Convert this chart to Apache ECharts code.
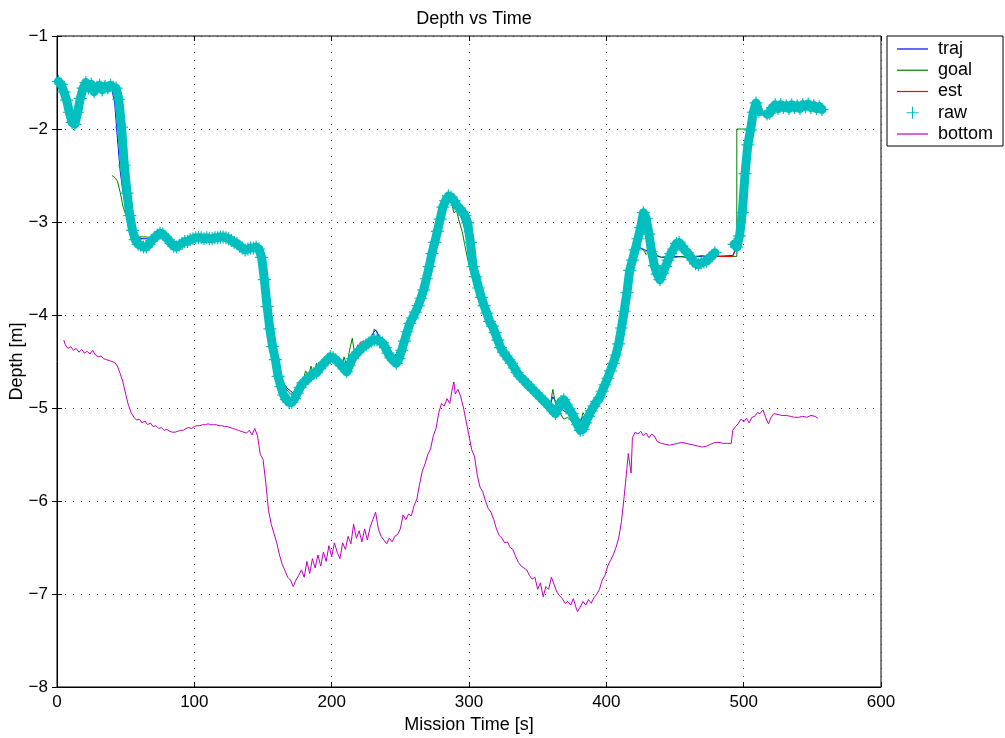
<!DOCTYPE html>
<html lang="en">
<head>
<meta charset="UTF-8">
<title>Depth vs Time</title>
<style>
html, body { margin: 0; padding: 0; background: #fff; }
#main { width: 1005px; height: 738px; }
</style>
</head>
<body>
<div id="main"></div>
<script src="https://cdn.jsdelivr.net/npm/echarts@6/dist/echarts.min.js"></script>
<script>
// ---- data ----
var seriesNames = ['traj', 'goal', 'est', 'raw', 'bottom'];

// raw samples, one every 2 s starting at t = 1 s (null = no sample)
var rawStart = 1;
var rawStep = 2;
var rawDepth = [
    -1.49, -1.52, -1.60, -1.69, -1.82, -1.93, -1.95, -1.82, -1.67, -1.56,
    -1.50, -1.56, -1.52, -1.60, -1.55, -1.53, -1.58, -1.54, -1.56, -1.53,
    -1.55, -1.56, -1.68, -1.98, -2.39, -2.69, -2.93, -3.09, -3.19, -3.24,
    -3.25, -3.27, -3.27, -3.24, -3.20, -3.17, -3.14, -3.12, -3.13, -3.16,
    -3.19, -3.23, -3.26, -3.27, -3.25, -3.23, -3.21, -3.21, -3.19, -3.18,
    -3.17, -3.17, -3.17, -3.18, -3.17, -3.18, -3.18, -3.17, -3.17, -3.16,
    -3.16, -3.17, -3.18, -3.20, -3.22, -3.23, -3.26, -3.28, -3.30, -3.29,
    -3.28, -3.28, -3.27, -3.29, -3.38, -3.62, -3.91, -4.15, -4.34, -4.48,
    -4.66, -4.77, -4.86, -4.91, -4.94, -4.94, -4.90, -4.84, -4.78, -4.73,
    -4.71, -4.68, -4.65, -4.63, -4.62, -4.58, -4.54, -4.51, -4.48, -4.45,
    -4.46, -4.48, -4.51, -4.54, -4.58, -4.61, -4.54, -4.47, -4.43, -4.40,
    -4.37, -4.34, -4.32, -4.30, -4.28, -4.27, -4.27, -4.28, -4.30, -4.35,
    -4.41, -4.46, -4.49, -4.52, -4.47, -4.38, -4.28, -4.18, -4.09, -4.03,
    -3.97, -3.90, -3.82, -3.73, -3.61, -3.48, -3.34, -3.22, -3.10, -2.97,
    -2.84, -2.77, -2.72, -2.73, -2.77, -2.82, -2.85, -2.89, -2.93, -3.01,
    -3.22, -3.48, -3.59, -3.71, -3.81, -3.90, -3.98, -4.07, -4.12, -4.19,
    -4.27, -4.35, -4.40, -4.44, -4.48, -4.52, -4.57, -4.62, -4.66, -4.69,
    -4.72, -4.75, -4.78, -4.81, -4.84, -4.87, -4.90, -4.93, -4.96, -4.99,
    -5.03, -5.06, -5.00, -4.93, -4.91, -4.96, -5.01, -5.06, -5.12, -5.18,
    -5.24, -5.23, -5.16, -5.09, -5.03, -4.98, -4.93, -4.89, -4.82, -4.75,
    -4.68, -4.60, -4.52, -4.43, -4.31, -4.14, -3.96, -3.76, -3.52, -3.41,
    -3.30, -3.18, -3.06, -2.90, -2.96, -3.13, -3.32, -3.47, -3.56, -3.62,
    -3.55, -3.48, -3.41, -3.34, -3.29, -3.23, -3.22, -3.26, -3.30, -3.33,
    -3.37, -3.41, -3.45, -3.46, -3.44, -3.43, -3.42, -3.39, -3.36, -3.33,
    null, null, null, null, null, null, -3.24, -3.27, -3.15, -2.90,
    -2.48, -2.17, -2.01, -1.82, -1.72, -1.81, null, null, -1.84, -1.83,
    -1.77, -1.74, -1.78, -1.74, -1.77, -1.75, -1.78, -1.74, -1.77, -1.75,
    -1.78, -1.74, -1.76, -1.73, -1.77, -1.75, -1.78, -1.76, -1.79
];

var traj = [
    [40, -1.58], [42, -1.72], [44, -2.10], [46, -2.45], [48, -2.68], [50, -2.85],
    [52, -2.98], [54, -3.07], [56, -3.13], [58, -3.16], [62, -3.18], [66, -3.18],
    [70, -3.17], [75, -3.15], [80, -3.17], [85, -3.21], [90, -3.23], [95, -3.20],
    [105, -3.17], [115, -3.17], [125, -3.18], [132, -3.22], [138, -3.27], [144, -3.29],
    [146, -3.33], [148, -3.48], [150, -3.70], [152, -3.92], [154, -4.13], [157, -4.41],
    [160, -4.58], [163, -4.70], [167, -4.78], [172, -4.84], [176, -4.80], [180, -4.72],
    [185, -4.62], [190, -4.56], [195, -4.52], [200, -4.47], [205, -4.50], [210, -4.52],
    [214, -4.45], [218, -4.40], [222, -4.36], [226, -4.32], [229, -4.22], [232, -4.16],
    [235, -4.24], [238, -4.32], [241, -4.40], [244, -4.45], [247, -4.42], [250, -4.34],
    [254, -4.20], [258, -4.06], [262, -3.93], [266, -3.76], [270, -3.52], [274, -3.25],
    [278, -2.98], [282, -2.80], [285, -2.73], [288, -2.76], [292, -2.86], [296, -3.02],
    [300, -3.30], [304, -3.55], [308, -3.78], [312, -3.95], [316, -4.08], [320, -4.22],
    [325, -4.38], [330, -4.49], [336, -4.62], [342, -4.73], [348, -4.82], [354, -4.90],
    [359, -4.97], [361, -4.88], [364, -4.95], [368, -5.02], [372, -5.06], [376, -5.10],
    [380, -5.15], [383, -5.10], [386, -5.06], [390, -4.98], [395, -4.88], [400, -4.72],
    [404, -4.56], [407, -4.40], [410, -4.15], [413, -3.85], [416, -3.55], [419, -3.38],
    [422, -3.27], [425, -3.28], [428, -3.30], [432, -3.32], [436, -3.36], [440, -3.38],
    [450, -3.37], [460, -3.38], [470, -3.37], [480, -3.37], [492, -3.36], [494, -3.30],
    [496, -3.12], [498, -2.75], [500, -2.35], [502, -2.14], [504, -2.05], [506, -2.01],
    [507, -2.00]
];

var goal = [
    [40, -2.50], [42, -2.52], [44, -2.56], [46, -2.68], [48, -2.83], [50, -2.92],
    [52, -3.00], [54, -3.08], [56, -3.12], [60, -3.16], [65, -3.16], [70, -3.17],
    [75, -3.15], [80, -3.17], [85, -3.22], [90, -3.23], [95, -3.20], [100, -3.18],
    [105, -3.17], [110, -3.18], [115, -3.17], [120, -3.17], [125, -3.18], [130, -3.21],
    [135, -3.26], [140, -3.29], [145, -3.30], [147, -3.36], [149, -3.55], [151, -3.62],
    [153, -3.88], [155, -4.10], [157, -4.20], [159, -4.45], [161, -4.55], [163, -4.68],
    [165, -4.72], [167, -4.80], [170, -4.85], [173, -4.86], [176, -4.80], [179, -4.72],
    [181, -4.60], [183, -4.66], [185, -4.55], [187, -4.65], [189, -4.52], [191, -4.62],
    [193, -4.50], [195, -4.58], [197, -4.47], [199, -4.52], [201, -4.42], [203, -4.55],
    [205, -4.48], [207, -4.60], [209, -4.45], [211, -4.55], [213, -4.38], [215, -4.25],
    [217, -4.45], [219, -4.32], [221, -4.38], [223, -4.28], [225, -4.35], [227, -4.25],
    [229, -4.30], [231, -4.15], [233, -4.18], [235, -4.30], [237, -4.28], [239, -4.40],
    [241, -4.45], [243, -4.38], [245, -4.50], [247, -4.42], [249, -4.35], [251, -4.30],
    [253, -4.20], [255, -4.12], [257, -4.05], [259, -3.98], [261, -3.92], [263, -3.85],
    [265, -3.72], [267, -3.62], [269, -3.50], [271, -3.35], [273, -3.25], [275, -3.10],
    [277, -2.98], [279, -2.88], [281, -2.80], [283, -2.75], [285, -2.72], [287, -2.78],
    [289, -2.90], [291, -2.88], [293, -3.00], [295, -3.10], [297, -3.25], [299, -3.40],
    [301, -3.52], [303, -3.62], [305, -3.72], [307, -3.80], [309, -3.88], [311, -3.95],
    [313, -4.03], [315, -4.10], [317, -4.15], [320, -4.22], [323, -4.30], [326, -4.40],
    [330, -4.48], [335, -4.58], [340, -4.65], [345, -4.75], [350, -4.85], [355, -4.92],
    [359, -5.00], [361, -4.80], [363, -4.95], [366, -5.05], [369, -5.12], [372, -5.10],
    [375, -5.15], [378, -5.22], [381, -5.18], [383, -5.05], [385, -5.10], [388, -5.02],
    [391, -4.98], [394, -4.90], [397, -4.82], [400, -4.72], [403, -4.62], [406, -4.48],
    [408, -4.35], [410, -4.10], [412, -3.85], [414, -3.70], [415, -3.50], [417, -3.58],
    [419, -3.40], [421, -3.30], [423, -3.25], [425, -3.28], [427, -3.30], [429, -3.35],
    [431, -3.32], [433, -3.38], [435, -3.30], [437, -3.36], [440, -3.38], [445, -3.37],
    [450, -3.38], [455, -3.37], [460, -3.38], [465, -3.37], [470, -3.36], [475, -3.38],
    [480, -3.37], [495, -3.37], [495, -2.00], [507, -2.00]
];

var est = [
    [1, -1.50], [7, -1.68], [12, -1.95], [17, -1.66], [22, -1.54], [30, -1.55],
    [38, -1.55], [44, -1.58], [46, -1.78], [48, -2.10], [50, -2.45], [52, -2.75],
    [54, -2.98], [56, -3.12], [60, -3.22], [66, -3.25], [72, -3.16], [77, -3.13],
    [83, -3.22], [88, -3.26], [95, -3.21], [105, -3.17], [115, -3.17], [125, -3.18],
    [132, -3.24], [138, -3.29], [146, -3.28], [149, -3.35], [151, -3.58], [153, -3.88],
    [155, -4.12], [157, -4.32], [159, -4.47], [162, -4.68], [166, -4.86], [170, -4.92],
    [175, -4.84], [181, -4.71], [189, -4.61], [195, -4.52], [200, -4.46], [206, -4.52],
    [211, -4.58], [216, -4.45], [221, -4.29], [240, -4.29], [243, -4.44], [247, -4.50],
    [252, -4.33], [257, -4.09], [262, -3.94], [267, -3.72], [272, -3.42], [277, -3.10],
    [281, -2.85], [285, -2.73], [291, -2.82], [296, -2.92], [300, -3.10], [303, -3.45],
    [308, -3.75], [313, -3.98], [318, -4.15], [323, -4.34], [330, -4.50], [337, -4.65],
    [345, -4.78], [352, -4.88], [359, -4.99], [363, -5.05], [368, -4.92], [375, -5.06],
    [382, -5.22], [388, -5.08], [394, -4.91], [400, -4.71], [405, -4.53], [409, -4.33],
    [412, -4.07], [415, -3.78], [417, -3.55], [421, -3.32], [425, -3.08], [428, -2.90],
    [431, -3.10], [434, -3.40], [439, -3.60], [444, -3.45], [449, -3.30], [452, -3.22],
    [459, -3.32], [466, -3.45], [473, -3.43], [479, -3.37], [492, -3.37], [495, -3.27],
    [497, -3.16], [499, -2.92], [501, -2.52], [503, -2.22], [505, -2.06], [507, -1.90],
    [509, -1.85], [521, -1.85]
];

var bottom = [
    [5, -4.27], [6, -4.32], [8, -4.36], [10, -4.34], [12, -4.38], [14, -4.36],
    [16, -4.40], [18, -4.37], [20, -4.41], [22, -4.39], [24, -4.42], [26, -4.38],
    [28, -4.43], [30, -4.45], [32, -4.44], [34, -4.47], [36, -4.48], [38, -4.49],
    [40, -4.50], [42, -4.51], [44, -4.55], [46, -4.63], [48, -4.72], [50, -4.85],
    [52, -4.97], [54, -5.05], [56, -5.10], [58, -5.13], [60, -5.12], [62, -5.16],
    [64, -5.14], [66, -5.18], [68, -5.16], [70, -5.20], [72, -5.19], [74, -5.22],
    [76, -5.21], [78, -5.24], [80, -5.23], [82, -5.25], [84, -5.26], [86, -5.26],
    [88, -5.25], [90, -5.24], [92, -5.24], [94, -5.22], [96, -5.21], [98, -5.22],
    [100, -5.20], [102, -5.19], [104, -5.19], [106, -5.18], [108, -5.18], [110, -5.17],
    [112, -5.18], [114, -5.18], [116, -5.18], [118, -5.19], [120, -5.19], [122, -5.20],
    [124, -5.20], [126, -5.21], [128, -5.22], [130, -5.23], [132, -5.24], [134, -5.25],
    [136, -5.26], [138, -5.27], [140, -5.24], [142, -5.29], [144, -5.22], [146, -5.30],
    [148, -5.50], [150, -5.55], [152, -5.80], [154, -6.10], [156, -6.25], [158, -6.35],
    [160, -6.45], [162, -6.58], [164, -6.68], [166, -6.75], [168, -6.82], [170, -6.85],
    [172, -6.92], [174, -6.85], [176, -6.80], [178, -6.74], [180, -6.82], [182, -6.65],
    [184, -6.78], [186, -6.62], [188, -6.72], [190, -6.58], [192, -6.70], [194, -6.55],
    [196, -6.65], [198, -6.48], [200, -6.60], [202, -6.45], [204, -6.55], [206, -6.62],
    [208, -6.45], [210, -6.52], [212, -6.38], [214, -6.46], [216, -6.25], [218, -6.40],
    [220, -6.32], [222, -6.44], [224, -6.30], [226, -6.42], [228, -6.28], [230, -6.20],
    [232, -6.12], [234, -6.30], [236, -6.38], [238, -6.42], [240, -6.46], [242, -6.40],
    [244, -6.44], [246, -6.38], [248, -6.36], [250, -6.30], [252, -6.15], [254, -6.20],
    [256, -6.14], [258, -6.16], [260, -6.05], [262, -5.98], [264, -5.82], [266, -5.68],
    [268, -5.60], [270, -5.50], [272, -5.44], [274, -5.30], [276, -5.22], [278, -5.05],
    [280, -4.95], [282, -4.98], [284, -4.90], [286, -4.95], [288, -4.78], [289, -4.72],
    [290, -4.85], [292, -4.80], [294, -4.88], [296, -5.00], [298, -5.15], [300, -5.30],
    [302, -5.45], [304, -5.52], [306, -5.72], [308, -5.85], [310, -5.90], [312, -6.00],
    [314, -6.08], [316, -6.12], [318, -6.20], [320, -6.30], [322, -6.37], [324, -6.40],
    [326, -6.45], [328, -6.44], [330, -6.50], [332, -6.52], [334, -6.60], [336, -6.66],
    [338, -6.70], [340, -6.72], [342, -6.74], [344, -6.80], [346, -6.84], [348, -6.82],
    [350, -6.95], [352, -6.88], [354, -7.03], [356, -6.92], [358, -6.95], [360, -6.82],
    [362, -6.90], [364, -6.98], [366, -7.02], [368, -7.05], [370, -7.10], [372, -7.08],
    [374, -7.12], [376, -7.05], [378, -7.15], [379, -7.19], [381, -7.14], [383, -7.08],
    [385, -7.12], [387, -7.06], [389, -7.10], [391, -7.04], [393, -7.00], [395, -6.95],
    [397, -6.85], [399, -6.80], [401, -6.70], [403, -6.64], [405, -6.58], [407, -6.50],
    [409, -6.40], [411, -6.22], [413, -5.95], [415, -5.65], [416, -5.49], [418, -5.70],
    [419, -5.32], [421, -5.26], [423, -5.28], [425, -5.25], [427, -5.30], [429, -5.27],
    [431, -5.32], [433, -5.28], [435, -5.30], [437, -5.36], [440, -5.38], [443, -5.39],
    [446, -5.40], [449, -5.39], [452, -5.38], [455, -5.37], [458, -5.38], [461, -5.39],
    [464, -5.40], [467, -5.41], [470, -5.42], [473, -5.41], [476, -5.39], [479, -5.37],
    [482, -5.37], [485, -5.38], [488, -5.38], [491, -5.38], [492, -5.24], [494, -5.20],
    [496, -5.17], [498, -5.12], [500, -5.15], [502, -5.11], [504, -5.16], [506, -5.10],
    [508, -5.09], [510, -5.05], [512, -5.06], [514, -5.02], [516, -5.10], [518, -5.17],
    [520, -5.10], [522, -5.06], [525, -5.07], [528, -5.08], [531, -5.08], [534, -5.09],
    [537, -5.10], [540, -5.10], [543, -5.09], [546, -5.10], [549, -5.08], [552, -5.09],
    [554, -5.11]
];

// raw as [t, d] pairs; null keeps the gap in the line
var raw = rawDepth.map(function (d, i) {
    return [rawStart + i * rawStep, d === null ? null : d];
});

var font = 'Liberation Sans, Arial, sans-serif';
var plusSymbol = 'path://M5,0h1v5h5v1h-5v5h-1v-5h-5v-1h5z';
var lineIcon = 'path://M0,0h31v1.2h-31z';

function minusLabel(v) {
    return v < 0 ? '\u2212' + Math.abs(v) : String(v);
}

var myChart = echarts.init(document.getElementById('main'));

function lineSeries(name, data, color) {
    return {
        name: name,
        type: 'line',
        data: data,
        symbol: 'none',
        showSymbol: false,
        lineStyle: { color: color, width: 1 },
        itemStyle: { color: color },
        silent: true
    };
}

var option = {
    animation: false,
    backgroundColor: '#fff',
    textStyle: { fontFamily: font },
    title: {
        text: 'Depth vs Time',
        left: 469,
        top: 5,
        textAlign: 'center',
        textStyle: { fontFamily: font, fontSize: 18, fontWeight: 'normal', color: '#000' }
    },
    grid: {
        left: 57,
        top: 36,
        right: 124,
        bottom: 51,
        containLabel: false,
        outerBoundsMode: 'none',
        show: true,
        borderColor: '#000',
        borderWidth: 1,
        backgroundColor: 'transparent'
    },
    legend: {
        data: [
            { name: 'traj', icon: lineIcon },
            { name: 'goal', icon: lineIcon },
            { name: 'est', icon: lineIcon },
            { name: 'raw', icon: plusSymbol },
            { name: 'bottom', icon: lineIcon }
        ],
        orient: 'vertical',
        left: 887,
        top: 36,
        padding: [2.5, 10, 1.5, 10],
        itemGap: 0.25,
        itemWidth: 31,
        itemHeight: 12,
        backgroundColor: '#fff',
        borderColor: '#000',
        borderWidth: 1,
        borderRadius: 0,
        textStyle: { fontFamily: font, fontSize: 18, lineHeight: 21, color: '#000', padding: [0, 0, 0, 5] }
    },
    xAxis: [{
        type: 'value',
        min: 0,
        max: 600,
        interval: 100,
        name: 'Mission Time [s]',
        nameLocation: 'middle',
        nameGap: 28,
        nameTextStyle: { fontFamily: font, fontSize: 18, color: '#000' },
        axisLine: { onZero: false, lineStyle: { color: '#000', width: 1 } },
        axisTick: { inside: true, length: 5, lineStyle: { color: '#000' } },
        axisLabel: { margin: 7, fontFamily: font, fontSize: 17, color: '#000' },
        splitLine: { show: true, lineStyle: { color: '#444', width: 1, type: [1, 7] } }
    }, {
        type: 'value',
        position: 'top',
        min: 0,
        max: 600,
        interval: 100,
        axisLine: { show: false },
        axisTick: { inside: true, length: 5, lineStyle: { color: '#000' } },
        axisLabel: { show: false },
        splitLine: { show: false }
    }],
    yAxis: [{
        type: 'value',
        min: -8,
        max: -1,
        interval: 1,
        name: 'Depth [m]',
        nameLocation: 'middle',
        nameGap: 31,
        nameMoveOverlap: false,
        nameRotate: 90,
        nameTextStyle: { fontFamily: font, fontSize: 18, color: '#000' },
        axisLine: { onZero: false, lineStyle: { color: '#000', width: 1 } },
        axisTick: { inside: true, length: 5, lineStyle: { color: '#000' } },
        axisLabel: { margin: 9, fontFamily: font, fontSize: 17, color: '#000', formatter: minusLabel },
        splitLine: { show: true, lineStyle: { color: '#444', width: 1, type: [1, 7] } }
    }, {
        type: 'value',
        position: 'right',
        min: -8,
        max: -1,
        interval: 1,
        axisLine: { show: false },
        axisTick: { inside: true, length: 5, lineStyle: { color: '#000' } },
        axisLabel: { show: false },
        splitLine: { show: false }
    }],
    series: [
        lineSeries('traj', traj, '#0000ff'),
        lineSeries('goal', goal, '#008000'),
        lineSeries('est', est, '#ff0000'),
        {
            // dense '+' markers merge into a thick band in the original
            name: 'raw',
            type: 'line',
            data: raw,
            connectNulls: false,
            symbol: plusSymbol,
            symbolSize: 13,
            showSymbol: true,
            showAllSymbol: true,
            lineStyle: { color: '#00bfbf', width: 9, cap: 'round', join: 'round' },
            itemStyle: { color: '#00bfbf' },
            silent: true
        },
        lineSeries('bottom', bottom, '#bf00bf')
    ]
};

myChart.setOption(option);
</script>
</body>
</html>
